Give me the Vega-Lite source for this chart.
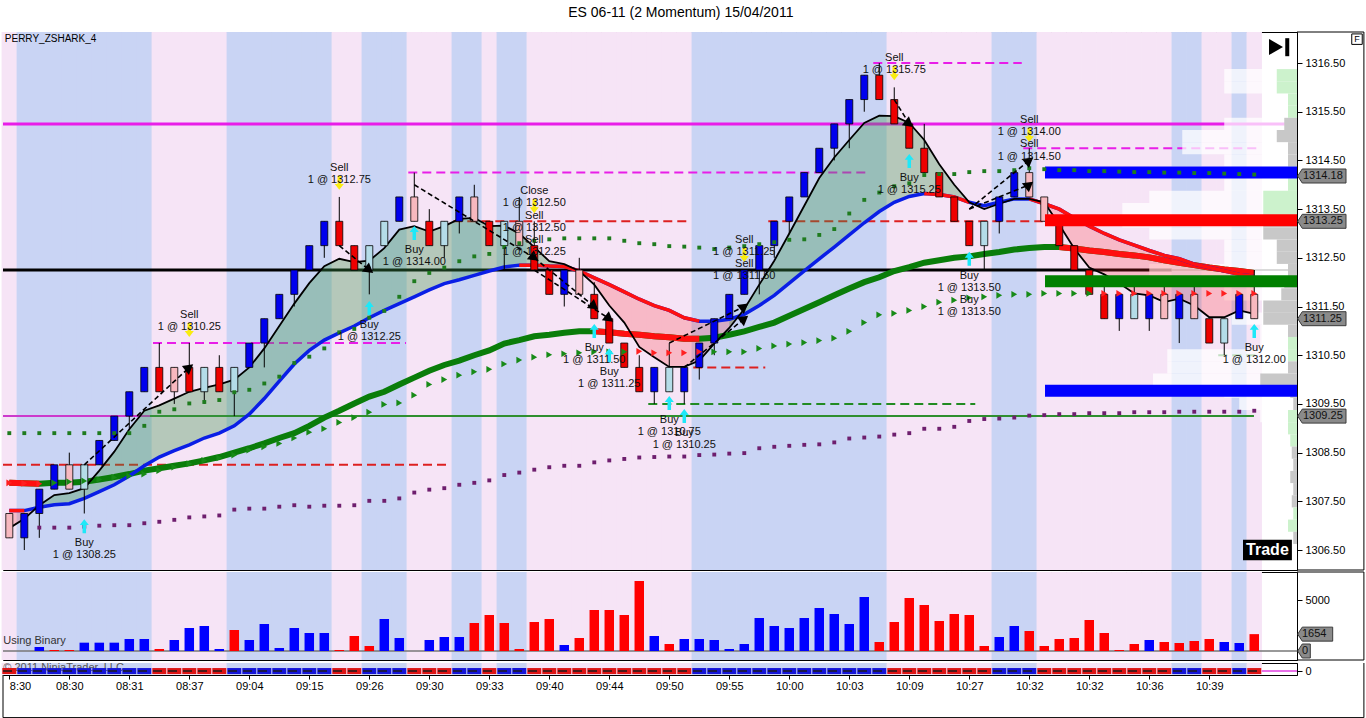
{
  "$schema": "https://vega.github.io/schema/vega-lite/v6.json",
  "background": "white",
  "padding": {"left": -4, "top": 6, "right": 2, "bottom": 0},
  "title": {"text": "ES 06-11 (2 Momentum)  15/04/2011", "font": "Liberation Sans", "fontSize": 14, "fontWeight": "normal", "color": "#000", "anchor": "middle", "offset": 11},
  "config": {
    "view": {"stroke": "#000", "strokeWidth": 1},
    "font": "Liberation Sans",
    "scale": {"continuousPadding": 0},
    "axis": {"labelFont": "Liberation Sans", "labelFontSize": 11, "labelColor": "#000", "tickColor": "#000", "domainColor": "#000", "grid": false}
  },
  "spacing": 0,
  "datasets": {
    "bars": [
      {"i":0,"o":1307.25,"h":1307.25,"l":1306.75,"c":1306.75,"k":"downPale","v":0,"vd":"dn","tr":"dn","f":1306.95,"m":1307.31,"s":1307.88,"g":1308.9,"pd":null,"tri":1307.88,"tt":"dn"},
      {"i":1,"o":1306.75,"h":1307.25,"l":1306.5,"c":1307.25,"k":"up","v":0,"vd":"dn","tr":"up","f":1307.14,"m":1307.31,"s":1307.87,"g":1308.9,"pd":null,"tri":1307.87,"tt":"dn"},
      {"i":2,"o":1307.25,"h":1307.75,"l":1306.75,"c":1307.75,"k":"up","v":392,"vd":"up","tr":"up","f":1307.42,"m":1307.38,"s":1307.86,"g":1308.9,"pd":1306.96,"tri":1307.86,"tt":"dn"},
      {"i":3,"o":1307.75,"h":1308.25,"l":1307.75,"c":1308.25,"k":"up","v":100,"vd":"dn","tr":"up","f":1307.63,"m":1307.43,"s":1307.88,"g":1308.9,"pd":1306.96,"tri":1307.88,"tt":"up"},
      {"i":4,"o":1308.25,"h":1308.5,"l":1307.75,"c":1307.75,"k":"downPale","v":100,"vd":"dn","tr":"up","f":1307.67,"m":1307.45,"s":1307.88,"g":1308.9,"pd":1306.96,"tri":1307.9,"tt":"up"},
      {"i":5,"o":1307.75,"h":1308.25,"l":1307.25,"c":1308.25,"k":"upPale","v":817,"vd":"up","tr":"up","f":1307.77,"m":1307.56,"s":1307.9,"g":1308.9,"pd":1306.98,"tri":1307.92,"tt":"up"},
      {"i":6,"o":1308.25,"h":1308.75,"l":1308.25,"c":1308.75,"k":"up","v":817,"vd":"up","tr":"up","f":1308.13,"m":1307.7,"s":1307.95,"g":1308.9,"pd":1307.0,"tri":1307.95,"tt":"up"},
      {"i":7,"o":1308.75,"h":1309.25,"l":1308.75,"c":1309.25,"k":"up","v":817,"vd":"up","tr":"up","f":1308.52,"m":1307.84,"s":1308.0,"g":1308.9,"pd":1307.01,"tri":1307.99,"tt":"up"},
      {"i":8,"o":1309.25,"h":1309.75,"l":1309.0,"c":1309.75,"k":"up","v":1176,"vd":"up","tr":"up","f":1308.98,"m":1308.02,"s":1308.06,"g":1308.9,"pd":1307.01,"tri":1308.02,"tt":"up"},
      {"i":9,"o":1309.75,"h":1310.25,"l":1309.75,"c":1310.25,"k":"up","v":1176,"vd":"up","tr":"up","f":1309.36,"m":1308.23,"s":1308.13,"g":1309.05,"pd":1307.05,"tri":1308.06,"tt":"up"},
      {"i":10,"o":1310.25,"h":1310.75,"l":1309.75,"c":1309.75,"k":"down","v":196,"vd":"dn","tr":"dn","f":1309.47,"m":1308.41,"s":1308.18,"g":1309.34,"pd":1307.08,"tri":1308.13,"tt":"up"},
      {"i":11,"o":1310.25,"h":1310.25,"l":1309.5,"c":1309.75,"k":"downPale","v":1078,"vd":"up","tr":"dn","f":1309.61,"m":1308.54,"s":1308.23,"g":1309.39,"pd":1307.12,"tri":1308.2,"tt":"up"},
      {"i":12,"o":1310.25,"h":1310.75,"l":1309.75,"c":1309.75,"k":"down","v":2255,"vd":"up","tr":"dn","f":1309.75,"m":1308.66,"s":1308.28,"g":1309.51,"pd":1307.17,"tri":1308.27,"tt":"up"},
      {"i":13,"o":1309.75,"h":1310.25,"l":1309.5,"c":1310.25,"k":"upPale","v":2451,"vd":"up","tr":"dn","f":1309.83,"m":1308.8,"s":1308.34,"g":1309.54,"pd":1307.19,"tri":1308.34,"tt":"up"},
      {"i":14,"o":1310.25,"h":1310.5,"l":1309.75,"c":1309.75,"k":"down","v":196,"vd":"up","tr":"dn","f":1309.9,"m":1308.9,"s":1308.41,"g":1309.58,"pd":1307.21,"tri":1308.39,"tt":"up"},
      {"i":15,"o":1309.75,"h":1310.25,"l":1309.25,"c":1310.25,"k":"upPale","v":2059,"vd":"dn","tr":"up","f":1310.0,"m":1309.05,"s":1308.5,"g":1309.74,"pd":1307.33,"tri":1308.45,"tt":"up"},
      {"i":16,"o":1310.25,"h":1310.75,"l":1310.25,"c":1310.75,"k":"up","v":1078,"vd":"up","tr":"up","f":1310.25,"m":1309.29,"s":1308.59,"g":1309.79,"pd":1307.35,"tri":1308.55,"tt":"up"},
      {"i":17,"o":1310.75,"h":1311.25,"l":1310.25,"c":1311.25,"k":"up","v":2647,"vd":"up","tr":"up","f":1310.64,"m":1309.61,"s":1308.69,"g":1309.92,"pd":1307.35,"tri":1308.62,"tt":"up"},
      {"i":18,"o":1311.25,"h":1311.75,"l":1311.25,"c":1311.75,"k":"up","v":294,"vd":"up","tr":"up","f":1311.1,"m":1309.97,"s":1308.8,"g":1310.06,"pd":1307.39,"tri":1308.69,"tt":"up"},
      {"i":19,"o":1311.75,"h":1312.25,"l":1311.5,"c":1312.25,"k":"up","v":2255,"vd":"up","tr":"up","f":1311.56,"m":1310.32,"s":1308.9,"g":1310.34,"pd":1307.42,"tri":1308.8,"tt":"up"},
      {"i":20,"o":1312.25,"h":1312.75,"l":1312.25,"c":1312.75,"k":"up","v":1765,"vd":"up","tr":"up","f":1311.98,"m":1310.6,"s":1309.05,"g":1310.47,"pd":1307.39,"tri":1308.92,"tt":"up"},
      {"i":21,"o":1312.75,"h":1313.25,"l":1312.5,"c":1313.25,"k":"up","v":1765,"vd":"up","tr":"up","f":1312.33,"m":1310.81,"s":1309.22,"g":1310.64,"pd":1307.41,"tri":1308.99,"tt":"up"},
      {"i":22,"o":1313.25,"h":1313.75,"l":1312.75,"c":1312.75,"k":"down","v":100,"vd":"dn","tr":"dn","f":1312.48,"m":1310.96,"s":1309.36,"g":1310.97,"pd":1307.41,"tri":1309.12,"tt":"up"},
      {"i":23,"o":1312.75,"h":1312.75,"l":1312.25,"c":1312.25,"k":"down","v":1470,"vd":"dn","tr":"dn","f":1312.41,"m":1311.1,"s":1309.51,"g":1311.04,"pd":1307.42,"tri":1309.22,"tt":"up"},
      {"i":24,"o":1312.25,"h":1312.75,"l":1311.75,"c":1312.75,"k":"upPale","v":490,"vd":"dn","tr":"up","f":1312.44,"m":1311.27,"s":1309.65,"g":1311.27,"pd":1307.51,"tri":1309.33,"tt":"up"},
      {"i":25,"o":1312.75,"h":1313.25,"l":1312.75,"c":1313.25,"k":"upPale","v":3137,"vd":"up","tr":"up","f":1312.7,"m":1311.42,"s":1309.75,"g":1311.41,"pd":1307.51,"tri":1309.49,"tt":"up"},
      {"i":26,"o":1313.25,"h":1313.75,"l":1313.25,"c":1313.75,"k":"up","v":1274,"vd":"up","tr":"up","f":1313.08,"m":1311.56,"s":1309.9,"g":1311.7,"pd":1307.56,"tri":1309.52,"tt":"up"},
      {"i":27,"o":1313.75,"h":1314.25,"l":1313.25,"c":1313.25,"k":"downPale","v":0,"vd":"up","tr":"dn","f":1313.15,"m":1311.7,"s":1310.04,"g":1312.02,"pd":1307.68,"tri":1309.68,"tt":"up"},
      {"i":28,"o":1313.25,"h":1313.5,"l":1312.75,"c":1312.75,"k":"down","v":1078,"vd":"up","tr":"dn","f":1313.04,"m":1311.84,"s":1310.18,"g":1312.19,"pd":1307.74,"tri":1309.9,"tt":"up"},
      {"i":29,"o":1312.75,"h":1313.25,"l":1312.5,"c":1313.25,"k":"upPale","v":1372,"vd":"up","tr":"dn","f":1313.15,"m":1311.97,"s":1310.3,"g":1312.3,"pd":1307.77,"tri":1310.0,"tt":"up"},
      {"i":30,"o":1313.25,"h":1313.75,"l":1313.0,"c":1313.75,"k":"up","v":1372,"vd":"up","tr":"up","f":1313.3,"m":1312.05,"s":1310.39,"g":1312.43,"pd":1307.84,"tri":1310.09,"tt":"up"},
      {"i":31,"o":1313.75,"h":1314.0,"l":1313.25,"c":1313.25,"k":"downPale","v":2745,"vd":"dn","tr":"up","f":1313.32,"m":1312.14,"s":1310.5,"g":1312.53,"pd":1307.88,"tri":1310.16,"tt":"up"},
      {"i":32,"o":1313.25,"h":1313.25,"l":1312.75,"c":1312.75,"k":"down","v":3529,"vd":"dn","tr":"dn","f":1313.15,"m":1312.23,"s":1310.6,"g":1312.58,"pd":1307.93,"tri":1310.21,"tt":"up"},
      {"i":33,"o":1312.75,"h":1313.25,"l":1312.25,"c":1313.25,"k":"upPale","v":2745,"vd":"dn","tr":"up","f":1313.16,"m":1312.31,"s":1310.74,"g":1312.72,"pd":1308.04,"tri":1310.32,"tt":"up"},
      {"i":34,"o":1313.25,"h":1313.75,"l":1312.75,"c":1312.75,"k":"downPale","v":196,"vd":"dn","tr":"up","f":1313.0,"m":1312.35,"s":1310.81,"g":1312.8,"pd":1308.09,"tri":1310.4,"tt":"up"},
      {"i":35,"o":1312.75,"h":1313.25,"l":1312.25,"c":1312.25,"k":"down","v":2843,"vd":"dn","tr":"dn","f":1312.72,"m":1312.35,"s":1310.89,"g":1312.85,"pd":1308.15,"tri":1310.46,"tt":"up"},
      {"i":36,"o":1312.25,"h":1312.25,"l":1311.75,"c":1311.75,"k":"down","v":3137,"vd":"dn","tr":"dn","f":1312.43,"m":1312.33,"s":1310.92,"g":1312.88,"pd":1308.2,"tri":1310.51,"tt":"up"},
      {"i":37,"o":1311.75,"h":1312.25,"l":1311.5,"c":1312.25,"k":"up","v":588,"vd":"up","tr":"dn","f":1312.37,"m":1312.32,"s":1310.96,"g":1312.9,"pd":1308.23,"tri":1310.53,"tt":"up"},
      {"i":38,"o":1312.25,"h":1312.5,"l":1311.75,"c":1311.75,"k":"downPale","v":1274,"vd":"dn","tr":"dn","f":1312.23,"m":1312.23,"s":1310.99,"g":1312.9,"pd":1308.23,"tri":1310.55,"tt":"up"},
      {"i":39,"o":1311.75,"h":1312.0,"l":1311.25,"c":1311.25,"k":"down","v":4020,"vd":"dn","tr":"dn","f":1311.95,"m":1312.09,"s":1310.99,"g":1312.9,"pd":1308.3,"tri":1310.57,"tt":"up"},
      {"i":40,"o":1311.25,"h":1311.25,"l":1310.75,"c":1310.75,"k":"down","v":4020,"vd":"dn","tr":"dn","f":1311.52,"m":1311.95,"s":1310.97,"g":1312.9,"pd":1308.34,"tri":1310.57,"tt":"up"},
      {"i":41,"o":1310.75,"h":1310.75,"l":1310.25,"c":1310.25,"k":"down","v":3529,"vd":"dn","tr":"dn","f":1311.17,"m":1311.8,"s":1310.94,"g":1312.85,"pd":1308.37,"tri":1310.57,"tt":"up"},
      {"i":42,"o":1310.25,"h":1310.5,"l":1309.75,"c":1309.75,"k":"down","v":6863,"vd":"dn","tr":"dn","f":1310.67,"m":1311.65,"s":1310.92,"g":1312.8,"pd":1308.4,"tri":1310.58,"tt":"dn"},
      {"i":43,"o":1309.75,"h":1310.25,"l":1309.5,"c":1310.25,"k":"up","v":1470,"vd":"up","tr":"dn","f":1310.46,"m":1311.52,"s":1310.89,"g":1312.78,"pd":1308.41,"tri":1310.55,"tt":"dn"},
      {"i":44,"o":1309.75,"h":1310.75,"l":1309.75,"c":1310.25,"k":"upPale","v":686,"vd":"dn","tr":"dn","f":1310.26,"m":1311.42,"s":1310.87,"g":1312.74,"pd":1308.42,"tri":1310.55,"tt":"dn"},
      {"i":45,"o":1309.75,"h":1310.25,"l":1309.5,"c":1310.25,"k":"up","v":1176,"vd":"up","tr":"dn","f":1310.26,"m":1311.27,"s":1310.84,"g":1312.73,"pd":1308.42,"tri":1310.55,"tt":"dn"},
      {"i":46,"o":1310.25,"h":1310.75,"l":1310.0,"c":1310.75,"k":"up","v":1176,"vd":"up","tr":"up","f":1310.39,"m":1311.2,"s":1310.84,"g":1312.71,"pd":1308.45,"tri":1310.57,"tt":"dn"},
      {"i":47,"o":1310.75,"h":1311.25,"l":1310.5,"c":1311.25,"k":"up","v":1078,"vd":"up","tr":"up","f":1310.74,"m":1311.2,"s":1310.86,"g":1312.68,"pd":1308.46,"tri":1310.57,"tt":"up"},
      {"i":48,"o":1311.25,"h":1311.75,"l":1311.25,"c":1311.75,"k":"up","v":196,"vd":"up","tr":"up","f":1311.06,"m":1311.24,"s":1310.92,"g":1312.71,"pd":1308.48,"tri":1310.57,"tt":"up"},
      {"i":49,"o":1311.75,"h":1312.25,"l":1311.75,"c":1312.25,"k":"up","v":686,"vd":"up","tr":"up","f":1311.45,"m":1311.34,"s":1310.99,"g":1312.74,"pd":1308.49,"tri":1310.57,"tt":"up"},
      {"i":50,"o":1312.25,"h":1312.75,"l":1311.75,"c":1312.75,"k":"up","v":3235,"vd":"up","tr":"up","f":1311.95,"m":1311.52,"s":1311.08,"g":1312.78,"pd":1308.59,"tri":1310.64,"tt":"up"},
      {"i":51,"o":1312.75,"h":1313.25,"l":1312.5,"c":1313.25,"k":"up","v":2451,"vd":"up","tr":"up","f":1312.44,"m":1311.73,"s":1311.17,"g":1312.82,"pd":1308.62,"tri":1310.69,"tt":"up"},
      {"i":52,"o":1313.25,"h":1313.75,"l":1313.0,"c":1313.75,"k":"up","v":2255,"vd":"up","tr":"up","f":1313.0,"m":1311.98,"s":1311.31,"g":1312.87,"pd":1308.64,"tri":1310.73,"tt":"up"},
      {"i":53,"o":1313.75,"h":1314.25,"l":1313.75,"c":1314.25,"k":"up","v":3235,"vd":"up","tr":"up","f":1313.57,"m":1312.23,"s":1311.45,"g":1312.88,"pd":1308.66,"tri":1310.76,"tt":"up"},
      {"i":54,"o":1314.25,"h":1314.75,"l":1314.25,"c":1314.75,"k":"up","v":4216,"vd":"up","tr":"up","f":1314.14,"m":1312.48,"s":1311.59,"g":1312.97,"pd":1308.67,"tri":1310.8,"tt":"up"},
      {"i":55,"o":1314.75,"h":1315.25,"l":1314.5,"c":1315.25,"k":"up","v":3627,"vd":"up","tr":"up","f":1314.56,"m":1312.72,"s":1311.73,"g":1313.09,"pd":1308.71,"tri":1310.85,"tt":"up"},
      {"i":56,"o":1315.25,"h":1315.75,"l":1314.75,"c":1315.75,"k":"up","v":2647,"vd":"up","tr":"up","f":1314.92,"m":1312.97,"s":1311.87,"g":1313.41,"pd":1308.79,"tri":1310.99,"tt":"up"},
      {"i":57,"o":1315.75,"h":1316.25,"l":1315.5,"c":1316.25,"k":"up","v":5294,"vd":"up","tr":"up","f":1315.27,"m":1313.22,"s":1312.0,"g":1313.69,"pd":1308.81,"tri":1311.17,"tt":"up"},
      {"i":58,"o":1316.25,"h":1316.5,"l":1315.75,"c":1315.75,"k":"down","v":882,"vd":"dn","tr":"up","f":1315.42,"m":1313.45,"s":1312.1,"g":1313.84,"pd":1308.83,"tri":1311.33,"tt":"up"},
      {"i":59,"o":1315.75,"h":1316.0,"l":1315.25,"c":1315.25,"k":"down","v":2843,"vd":"dn","tr":"dn","f":1315.41,"m":1313.64,"s":1312.23,"g":1313.97,"pd":1308.87,"tri":1311.36,"tt":"up"},
      {"i":60,"o":1315.25,"h":1315.25,"l":1314.75,"c":1314.75,"k":"down","v":5196,"vd":"dn","tr":"dn","f":1315.27,"m":1313.76,"s":1312.31,"g":1314.03,"pd":1308.9,"tri":1311.42,"tt":"up"},
      {"i":61,"o":1314.75,"h":1315.25,"l":1314.25,"c":1314.25,"k":"down","v":4510,"vd":"dn","tr":"dn","f":1314.92,"m":1313.82,"s":1312.4,"g":1314.2,"pd":1308.99,"tri":1311.5,"tt":"up"},
      {"i":62,"o":1314.25,"h":1314.25,"l":1313.75,"c":1313.75,"k":"down","v":2941,"vd":"dn","tr":"dn","f":1314.42,"m":1313.8,"s":1312.45,"g":1314.22,"pd":1308.99,"tri":1311.59,"tt":"up"},
      {"i":63,"o":1313.75,"h":1313.75,"l":1313.25,"c":1313.25,"k":"down","v":3627,"vd":"dn","tr":"dn","f":1314.0,"m":1313.75,"s":1312.5,"g":1314.22,"pd":1309.03,"tri":1311.63,"tt":"up"},
      {"i":64,"o":1313.25,"h":1313.25,"l":1312.75,"c":1312.75,"k":"down","v":3529,"vd":"dn","tr":"dn","f":1313.64,"m":1313.64,"s":1312.53,"g":1314.26,"pd":1309.15,"tri":1311.68,"tt":"up"},
      {"i":65,"o":1312.75,"h":1313.25,"l":1312.25,"c":1313.25,"k":"upPale","v":490,"vd":"dn","tr":"dn","f":1313.5,"m":1313.57,"s":1312.58,"g":1314.28,"pd":1309.19,"tri":1311.7,"tt":"up"},
      {"i":66,"o":1313.25,"h":1313.75,"l":1313.0,"c":1313.75,"k":"up","v":1372,"vd":"up","tr":"up","f":1313.61,"m":1313.64,"s":1312.62,"g":1314.28,"pd":1309.2,"tri":1311.73,"tt":"up"},
      {"i":67,"o":1313.75,"h":1314.25,"l":1313.75,"c":1314.25,"k":"up","v":2451,"vd":"up","tr":"up","f":1313.71,"m":1313.71,"s":1312.67,"g":1314.3,"pd":1309.22,"tri":1311.75,"tt":"up"},
      {"i":68,"o":1314.25,"h":1314.75,"l":1313.75,"c":1313.75,"k":"downPale","v":1961,"vd":"dn","tr":"up","f":1313.71,"m":1313.71,"s":1312.7,"g":1314.34,"pd":1309.26,"tri":1311.75,"tt":"up"},
      {"i":69,"o":1313.75,"h":1313.75,"l":1313.25,"c":1313.25,"k":"downPale","v":490,"vd":"dn","tr":"dn","f":1313.64,"m":1313.61,"s":1312.72,"g":1314.32,"pd":1309.27,"tri":1311.77,"tt":"up"},
      {"i":70,"o":1313.25,"h":1313.25,"l":1312.75,"c":1312.75,"k":"down","v":1176,"vd":"dn","tr":"dn","f":1313.18,"m":1313.5,"s":1312.72,"g":1314.3,"pd":1309.29,"tri":1311.77,"tt":"up"},
      {"i":71,"o":1312.75,"h":1312.75,"l":1312.25,"c":1312.25,"k":"down","v":1274,"vd":"dn","tr":"dn","f":1312.69,"m":1313.32,"s":1312.69,"g":1314.3,"pd":1309.29,"tri":1311.77,"tt":"up"},
      {"i":72,"o":1312.25,"h":1312.25,"l":1311.75,"c":1311.75,"k":"down","v":3039,"vd":"dn","tr":"dn","f":1312.3,"m":1313.15,"s":1312.65,"g":1314.28,"pd":1309.31,"tri":1311.77,"tt":"up"},
      {"i":73,"o":1311.75,"h":1312.0,"l":1311.25,"c":1311.25,"k":"down","v":1765,"vd":"dn","tr":"dn","f":1312.16,"m":1313.0,"s":1312.62,"g":1314.28,"pd":1309.31,"tri":1311.77,"tt":"dn"},
      {"i":74,"o":1311.25,"h":1311.75,"l":1311.0,"c":1311.75,"k":"up","v":100,"vd":"dn","tr":"dn","f":1311.98,"m":1312.87,"s":1312.58,"g":1314.27,"pd":1309.31,"tri":1311.77,"tt":"dn"},
      {"i":75,"o":1311.25,"h":1312.0,"l":1311.25,"c":1311.75,"k":"upPale","v":686,"vd":"dn","tr":"dn","f":1311.77,"m":1312.76,"s":1312.55,"g":1314.26,"pd":1309.33,"tri":1311.77,"tt":"dn"},
      {"i":76,"o":1311.25,"h":1311.75,"l":1311.0,"c":1311.75,"k":"up","v":1078,"vd":"up","tr":"dn","f":1311.73,"m":1312.65,"s":1312.51,"g":1314.26,"pd":1309.33,"tri":1311.77,"tt":"dn"},
      {"i":77,"o":1311.75,"h":1312.0,"l":1311.25,"c":1311.25,"k":"downPale","v":882,"vd":"dn","tr":"dn","f":1311.59,"m":1312.55,"s":1312.45,"g":1314.25,"pd":1309.33,"tri":1311.77,"tt":"dn"},
      {"i":78,"o":1311.25,"h":1311.75,"l":1310.75,"c":1311.75,"k":"up","v":784,"vd":"dn","tr":"up","f":1311.66,"m":1312.48,"s":1312.4,"g":1314.25,"pd":1309.34,"tri":1311.77,"tt":"dn"},
      {"i":79,"o":1311.75,"h":1312.0,"l":1311.25,"c":1311.25,"k":"downPale","v":980,"vd":"dn","tr":"up","f":1311.52,"m":1312.37,"s":1312.35,"g":1314.24,"pd":1309.34,"tri":1311.77,"tt":"dn"},
      {"i":80,"o":1311.25,"h":1311.25,"l":1310.75,"c":1310.75,"k":"down","v":1176,"vd":"dn","tr":"dn","f":1311.28,"m":1312.3,"s":1312.3,"g":1314.24,"pd":1309.34,"tri":1311.77,"tt":"dn"},
      {"i":81,"o":1310.75,"h":1311.25,"l":1310.5,"c":1311.25,"k":"upPale","v":882,"vd":"up","tr":"dn","f":1311.28,"m":1312.23,"s":1312.26,"g":1314.23,"pd":1309.34,"tri":1311.77,"tt":"dn"},
      {"i":82,"o":1311.25,"h":1311.75,"l":1311.25,"c":1311.75,"k":"up","v":784,"vd":"up","tr":"up","f":1311.42,"m":1312.16,"s":1312.23,"g":1314.22,"pd":1309.34,"tri":1311.77,"tt":"dn"},
      {"i":83,"o":1311.75,"h":1312.25,"l":1311.25,"c":1311.25,"k":"downPale","v":1654,"vd":"dn","tr":"dn","f":1311.35,"m":1312.12,"s":1312.19,"g":1314.21,"pd":1309.36,"tri":1311.77,"tt":"dn"}
    ],
    "levels": [
      {"k":"pivotHigh","p":1315.25,"a":-0.42,"b":85.85},
      {"k":"pivot","p":1312.25,"a":-0.42,"b":77.5},
      {"k":"pivotFaded","p":1312.25,"a":77.5,"b":85.85},
      {"k":"pivotLow","p":1309.25,"a":-0.42,"b":9.38},
      {"k":"pivotLowTrend","p":1309.25,"a":9.38,"b":82.98},
      {"k":"stop","p":1308.25,"a":-0.42,"b":29.4},
      {"k":"target","p":1310.75,"a":9.58,"b":26.45},
      {"k":"target","p":1314.25,"a":26.6,"b":57.4},
      {"k":"stop","p":1313.25,"a":29.6,"b":45.4},
      {"k":"stop","p":1310.25,"a":45.6,"b":50.4},
      {"k":"stop","p":1313.25,"a":50.6,"b":68.9},
      {"k":"entry","p":1309.5,"a":42.6,"b":64.4},
      {"k":"target","p":1316.5,"a":57.6,"b":67.5},
      {"k":"target","p":1314.75,"a":67.6,"b":83.4},
      {"k":"entry","p":1310.5,"a":80.6,"b":83.4},
      {"k":"zoneBuy","p":1314.25,"a":69.05,"b":85.85},
      {"k":"zoneSell","p":1313.27,"a":69.05,"b":85.85},
      {"k":"zoneMid","p":1312.02,"a":69.05,"b":85.85},
      {"k":"zoneBuy","p":1309.77,"a":69.05,"b":85.85}
    ],
    "profile": [
      {"p":1316.25,"w":81.0,"cf":84.5,"side":"buy"},
      {"p":1316.0,"w":81.0,"cf":84.5,"side":"buy"},
      {"p":1315.75,"w":83.6,"cf":85.25,"side":"buy"},
      {"p":1315.5,"w":83.6,"cf":85.25,"side":"buy"},
      {"p":1315.25,"w":81.0,"cf":85.0,"side":"sell"},
      {"p":1315.0,"w":78.2,"cf":84.5,"side":"sell"},
      {"p":1314.75,"w":78.2,"cf":85.25,"side":"sell"},
      {"p":1314.5,"w":81.0,"cf":85.25,"side":"sell"},
      {"p":1314.25,"w":76.0,"cf":85.25,"side":"buy"},
      {"p":1314.0,"w":81.0,"cf":85.25,"side":"buy"},
      {"p":1313.75,"w":76.0,"cf":83.6,"side":"buy"},
      {"p":1313.5,"w":74.2,"cf":83.6,"side":"buy"},
      {"p":1313.25,"w":74.2,"cf":83.6,"side":"sell"},
      {"p":1313.0,"w":76.0,"cf":83.6,"side":"sell"},
      {"p":1312.75,"w":81.0,"cf":84.5,"side":"sell"},
      {"p":1312.5,"w":81.0,"cf":84.5,"side":"sell"},
      {"p":1312.25,"w":76.0,"cf":85.25,"side":"sell"},
      {"p":1312.0,"w":81.0,"cf":85.0,"side":"sell"},
      {"p":1311.75,"w":81.0,"cf":84.8,"side":"sell"},
      {"p":1311.5,"w":83.6,"cf":83.6,"side":"sell"},
      {"p":1311.25,"w":81.5,"cf":83.6,"side":"sell"},
      {"p":1311.0,"w":83.4,"cf":85.25,"side":"sell"},
      {"p":1310.75,"w":83.4,"cf":85.25,"side":"buy"},
      {"p":1310.5,"w":77.2,"cf":85.25,"side":"buy"},
      {"p":1310.25,"w":77.2,"cf":85.25,"side":"sell"},
      {"p":1310.0,"w":76.25,"cf":83.4,"side":"sell"},
      {"p":1309.75,"w":81.0,"cf":85.4,"side":"sell"},
      {"p":1309.5,"w":82.0,"cf":85.6,"side":"sell"},
      {"p":1309.25,"w":83.4,"cf":85.25,"side":"buy"},
      {"p":1309.0,"w":84.0,"cf":85.25,"side":"buy"},
      {"p":1308.75,"w":84.7,"cf":85.4,"side":"buy"},
      {"p":1308.5,"w":85.5,"cf":85.5,"side":"sell"},
      {"p":1308.25,"w":85.6,"cf":85.6,"side":"sell"},
      {"p":1308.0,"w":85.4,"cf":85.4,"side":"sell"},
      {"p":1307.75,"w":85.6,"cf":85.6,"side":"sell"},
      {"p":1307.5,"w":85.5,"cf":85.5,"side":"sell"},
      {"p":1307.25,"w":85.6,"cf":85.6,"side":"buy"},
      {"p":1307.0,"w":85.25,"cf":85.25,"side":"buy"},
      {"p":1306.75,"w":85.6,"cf":85.6,"side":"sell"}
    ],
    "trades": [
      {"i":5,"y":1306.99,"side":"buy","txt":"Buy\n1 @ 1308.25"},
      {"i":12,"y":1311.02,"side":"sell","txt":"Sell\n1 @ 1310.25"},
      {"i":22,"y":1314.04,"side":"sell","txt":"Sell\n1 @ 1312.75"},
      {"i":24,"y":1311.47,"side":"buy","txt":"Buy\n1 @ 1312.25"},
      {"i":27,"y":1313.01,"side":"buy","txt":"Buy\n1 @ 1314.00"},
      {"i":35,"y":1313.56,"side":"sell","txt":"Close\n1 @ 1312.50\nSell\n1 @ 1312.50\nSell\n1 @ 1312.25"},
      {"i":39,"y":1311.0,"side":"buy","txt":"Buy\n1 @ 1311.50"},
      {"i":40,"y":1310.5,"side":"buy","txt":"Buy\n1 @ 1311.25"},
      {"i":44,"y":1309.52,"side":"buy","txt":"Buy\n1 @ 1310.75"},
      {"i":45,"y":1309.25,"side":"buy","txt":"Buy\n1 @ 1310.25"},
      {"i":49,"y":1312.56,"side":"sell","txt":"Sell\n1 @ 1311.25\nSell\n1 @ 1311.50"},
      {"i":59,"y":1316.29,"side":"sell","txt":"Sell\n1 @ 1315.75"},
      {"i":60,"y":1314.49,"side":"buy","txt":"Buy\n1 @ 1315.25"},
      {"i":64,"y":1312.48,"side":"buy","txt":"Buy\n1 @ 1313.50\nBuy\n1 @ 1313.50"},
      {"i":68,"y":1315.02,"side":"sell","txt":"Sell\n1 @ 1314.00\nSell\n1 @ 1314.50"},
      {"i":83,"y":1311.0,"side":"buy","txt":"Buy\n1 @ 1312.00"}
    ],
    "paths": [
      {"i1":5,"p1":1308.25,"i2":12,"p2":1310.25},
      {"i1":22,"p1":1312.75,"i2":24,"p2":1312.25},
      {"i1":27,"p1":1314.0,"i2":35,"p2":1312.5},
      {"i1":35,"p1":1312.5,"i2":39,"p2":1311.5},
      {"i1":35,"p1":1312.25,"i2":40,"p2":1311.25},
      {"i1":44,"p1":1310.75,"i2":49,"p2":1311.5},
      {"i1":45,"p1":1310.25,"i2":49,"p2":1311.25},
      {"i1":59,"p1":1315.75,"i2":60,"p2":1315.25},
      {"i1":64,"p1":1313.5,"i2":68,"p2":1314.5},
      {"i1":64,"p1":1313.5,"i2":68,"p2":1314.0}
    ],
    "tags": [
      {"p":1314.18},
      {"p":1313.25},
      {"p":1311.25},
      {"p":1309.25}
    ]
  },
  "vconcat": [
    {
      "width": 1294,
      "height": 538,
      "layer": [
        {
          "data": {"name": "bars"},
          "mark": {"type": "bar", "width": 15.4},
          "encoding": {
            "x": {"field": "i", "type": "quantitative", "scale": {"domain": [-0.42, 85.85], "nice": false, "zero": false}, "axis": null},
            "y": {"datum": 1317.137, "type": "quantitative", "scale": {"domain": [1306.09, 1317.137], "nice": false, "zero": false},
              "axis": {"orient": "right", "title": null, "values": [1306.5,1307,1307.5,1308,1308.5,1309,1309.5,1310,1310.5,1311,1311.5,1312,1312.5,1313,1313.5,1314,1314.5,1315,1315.5,1316,1316.5], "format": ".2f", "tickSize": 5, "labelPadding": 3, "labelFlush": false, "labelOverlap": false}},
            "y2": {"datum": 1306.09},
            "color": {"condition": {"test": "datum.tr == 'up'", "value": "#c9d4f4"}, "value": "#f6e4f6"}
          }
        },
        {
          "data": {"name": "levels"},
          "transform": [{"filter": "indexof(['pivotHigh','pivot','pivotFaded','pivotLow','pivotLowTrend'], datum.k) >= 0"}],
          "mark": {"type": "rule", "clip": true},
          "encoding": {
            "x": {"field": "a", "type": "quantitative", "scale": {"domain": [-0.42, 85.85], "nice": false, "zero": false}},
            "x2": {"field": "b"},
            "y": {"field": "p", "type": "quantitative", "scale": {"domain": [1306.09, 1317.137], "nice": false, "zero": false}},
            "color": {"condition": [
              {"test": "datum.k == 'pivotHigh'", "value": "#e81ee8"},
              {"test": "datum.k == 'pivot'", "value": "#000000"},
              {"test": "datum.k == 'pivotFaded'", "value": "#7a7a7a"},
              {"test": "datum.k == 'pivotLow'", "value": "#cc3acc"}
            ], "value": "#2f8f2f"},
            "strokeWidth": {"condition": {"test": "datum.k == 'pivotHigh' || datum.k == 'pivot'", "value": 3}, "value": 2}
          }
        },
        {
          "data": {"name": "levels"},
          "transform": [{"filter": "indexof(['target','stop','entry'], datum.k) >= 0"}],
          "mark": {"type": "rule", "clip": true, "strokeWidth": 2, "strokeDash": [9, 5]},
          "encoding": {
            "x": {"field": "a", "type": "quantitative", "scale": {"domain": [-0.42, 85.85], "nice": false, "zero": false}},
            "x2": {"field": "b"},
            "y": {"field": "p", "type": "quantitative", "scale": {"domain": [1306.09, 1317.137], "nice": false, "zero": false}},
            "color": {"condition": [
              {"test": "datum.k == 'target'", "value": "#e81ee8"},
              {"test": "datum.k == 'stop'", "value": "#dd2020"}
            ], "value": "#228b22"}
          }
        },
        {
          "data": {"name": "profile"},
          "mark": {"type": "bar", "height": 12.2, "color": "#ffffff", "opacity": 0.72, "clip": true},
          "encoding": {
            "x": {"field": "w", "type": "quantitative", "scale": {"domain": [-0.42, 85.85], "nice": false, "zero": false}},
            "x2": {"datum": 85.85},
            "y": {"field": "p", "type": "quantitative", "scale": {"domain": [1306.09, 1317.137], "nice": false, "zero": false}}
          }
        },
        {
          "data": {"name": "profile"},
          "mark": {"type": "bar", "height": 12.2, "clip": true},
          "encoding": {
            "x": {"field": "cf", "type": "quantitative", "scale": {"domain": [-0.42, 85.85], "nice": false, "zero": false}},
            "x2": {"datum": 85.85},
            "y": {"field": "p", "type": "quantitative", "scale": {"domain": [1306.09, 1317.137], "nice": false, "zero": false}},
            "color": {"condition": {"test": "datum.side == 'buy'", "value": "#ccf2cc"}, "value": "#c8c8c8"}
          }
        },
        {
          "data": {"name": "bars"},
          "transform": [{"filter": {"field": "i", "range": [0, 2]}}],
          "mark": {"type": "area", "color": "#ff2020", "opacity": 0.22},
          "encoding": {
            "x": {"field": "i", "type": "quantitative", "scale": {"domain": [-0.42, 85.85], "nice": false, "zero": false}},
            "y": {"field": "f", "type": "quantitative", "scale": {"domain": [1306.09, 1317.137], "nice": false, "zero": false}},
            "y2": {"field": "m"}
          }
        },
        {
          "data": {"name": "bars"},
          "transform": [{"filter": {"field": "i", "range": [2, 38]}}],
          "mark": {"type": "area", "color": "#3b964a", "opacity": 0.35},
          "encoding": {
            "x": {"field": "i", "type": "quantitative", "scale": {"domain": [-0.42, 85.85], "nice": false, "zero": false}},
            "y": {"field": "f", "type": "quantitative", "scale": {"domain": [1306.09, 1317.137], "nice": false, "zero": false}},
            "y2": {"field": "m"}
          }
        },
        {
          "data": {"name": "bars"},
          "transform": [{"filter": {"field": "i", "range": [38, 49]}}],
          "mark": {"type": "area", "color": "#ff2020", "opacity": 0.22},
          "encoding": {
            "x": {"field": "i", "type": "quantitative", "scale": {"domain": [-0.42, 85.85], "nice": false, "zero": false}},
            "y": {"field": "f", "type": "quantitative", "scale": {"domain": [1306.09, 1317.137], "nice": false, "zero": false}},
            "y2": {"field": "m"}
          }
        },
        {
          "data": {"name": "bars"},
          "transform": [{"filter": {"field": "i", "range": [48, 64]}}],
          "mark": {"type": "area", "color": "#3b964a", "opacity": 0.35},
          "encoding": {
            "x": {"field": "i", "type": "quantitative", "scale": {"domain": [-0.42, 85.85], "nice": false, "zero": false}},
            "y": {"field": "f", "type": "quantitative", "scale": {"domain": [1306.09, 1317.137], "nice": false, "zero": false}},
            "y2": {"field": "m"}
          }
        },
        {
          "data": {"name": "bars"},
          "transform": [{"filter": {"field": "i", "range": [64, 83]}}],
          "mark": {"type": "area", "color": "#ff2020", "opacity": 0.22},
          "encoding": {
            "x": {"field": "i", "type": "quantitative", "scale": {"domain": [-0.42, 85.85], "nice": false, "zero": false}},
            "y": {"field": "f", "type": "quantitative", "scale": {"domain": [1306.09, 1317.137], "nice": false, "zero": false}},
            "y2": {"field": "m"}
          }
        },
        {
          "data": {"name": "bars"},
          "mark": {"type": "line", "color": "#0a7d0a", "strokeWidth": 6},
          "encoding": {
            "x": {"field": "i", "type": "quantitative", "scale": {"domain": [-0.42, 85.85], "nice": false, "zero": false}},
            "y": {"field": "s", "type": "quantitative", "scale": {"domain": [1306.09, 1317.137], "nice": false, "zero": false}}
          }
        },
        {
          "data": {"name": "bars"},
          "transform": [{"filter": {"field": "i", "range": [0, 2]}}],
          "mark": {"type": "line", "color": "#ff1010", "strokeWidth": 6},
          "encoding": {
            "x": {"field": "i", "type": "quantitative", "scale": {"domain": [-0.42, 85.85], "nice": false, "zero": false}},
            "y": {"field": "s", "type": "quantitative", "scale": {"domain": [1306.09, 1317.137], "nice": false, "zero": false}}
          }
        },
        {
          "data": {"name": "bars"},
          "transform": [{"filter": {"field": "i", "range": [39, 46]}}],
          "mark": {"type": "line", "color": "#ff1010", "strokeWidth": 6},
          "encoding": {
            "x": {"field": "i", "type": "quantitative", "scale": {"domain": [-0.42, 85.85], "nice": false, "zero": false}},
            "y": {"field": "s", "type": "quantitative", "scale": {"domain": [1306.09, 1317.137], "nice": false, "zero": false}}
          }
        },
        {
          "data": {"name": "bars"},
          "transform": [{"filter": {"field": "i", "range": [70, 83]}}],
          "mark": {"type": "line", "color": "#ff1010", "strokeWidth": 6},
          "encoding": {
            "x": {"field": "i", "type": "quantitative", "scale": {"domain": [-0.42, 85.85], "nice": false, "zero": false}},
            "y": {"field": "s", "type": "quantitative", "scale": {"domain": [1306.09, 1317.137], "nice": false, "zero": false}}
          }
        },
        {
          "data": {"name": "bars"},
          "mark": {"type": "line", "color": "#0a1ee6", "strokeWidth": 3.5},
          "encoding": {
            "x": {"field": "i", "type": "quantitative", "scale": {"domain": [-0.42, 85.85], "nice": false, "zero": false}},
            "y": {"field": "m", "type": "quantitative", "scale": {"domain": [1306.09, 1317.137], "nice": false, "zero": false}}
          }
        },
        {
          "data": {"name": "bars"},
          "transform": [{"filter": {"field": "i", "range": [0, 1]}}],
          "mark": {"type": "line", "color": "#ff1010", "strokeWidth": 3.5},
          "encoding": {
            "x": {"field": "i", "type": "quantitative", "scale": {"domain": [-0.42, 85.85], "nice": false, "zero": false}},
            "y": {"field": "m", "type": "quantitative", "scale": {"domain": [1306.09, 1317.137], "nice": false, "zero": false}}
          }
        },
        {
          "data": {"name": "bars"},
          "transform": [{"filter": {"field": "i", "range": [34, 46]}}],
          "mark": {"type": "line", "color": "#ff1010", "strokeWidth": 3.5},
          "encoding": {
            "x": {"field": "i", "type": "quantitative", "scale": {"domain": [-0.42, 85.85], "nice": false, "zero": false}},
            "y": {"field": "m", "type": "quantitative", "scale": {"domain": [1306.09, 1317.137], "nice": false, "zero": false}}
          }
        },
        {
          "data": {"name": "bars"},
          "transform": [{"filter": {"field": "i", "range": [61, 64]}}],
          "mark": {"type": "line", "color": "#ff1010", "strokeWidth": 3.5},
          "encoding": {
            "x": {"field": "i", "type": "quantitative", "scale": {"domain": [-0.42, 85.85], "nice": false, "zero": false}},
            "y": {"field": "m", "type": "quantitative", "scale": {"domain": [1306.09, 1317.137], "nice": false, "zero": false}}
          }
        },
        {
          "data": {"name": "bars"},
          "transform": [{"filter": {"field": "i", "range": [68, 83]}}],
          "mark": {"type": "line", "color": "#ff1010", "strokeWidth": 3.5},
          "encoding": {
            "x": {"field": "i", "type": "quantitative", "scale": {"domain": [-0.42, 85.85], "nice": false, "zero": false}},
            "y": {"field": "m", "type": "quantitative", "scale": {"domain": [1306.09, 1317.137], "nice": false, "zero": false}}
          }
        },
        {
          "data": {"name": "bars"},
          "mark": {"type": "line", "color": "#000000", "strokeWidth": 1.8},
          "encoding": {
            "x": {"field": "i", "type": "quantitative", "scale": {"domain": [-0.42, 85.85], "nice": false, "zero": false}},
            "y": {"field": "f", "type": "quantitative", "scale": {"domain": [1306.09, 1317.137], "nice": false, "zero": false}}
          }
        },
        {
          "data": {"name": "bars"},
          "mark": {"type": "rule", "color": "#000000", "strokeWidth": 1},
          "encoding": {
            "x": {"field": "i", "type": "quantitative", "scale": {"domain": [-0.42, 85.85], "nice": false, "zero": false}},
            "y": {"field": "l", "type": "quantitative", "scale": {"domain": [1306.09, 1317.137], "nice": false, "zero": false}},
            "y2": {"field": "h"}
          }
        },
        {
          "data": {"name": "bars"},
          "mark": {"type": "bar", "width": 7, "stroke": "#000000", "strokeWidth": 0.8},
          "encoding": {
            "x": {"field": "i", "type": "quantitative", "scale": {"domain": [-0.42, 85.85], "nice": false, "zero": false}},
            "y": {"field": "o", "type": "quantitative", "scale": {"domain": [1306.09, 1317.137], "nice": false, "zero": false}},
            "y2": {"field": "c"},
            "color": {"condition": [
              {"test": "datum.k == 'up'", "value": "#0000ee"},
              {"test": "datum.k == 'down'", "value": "#ee0000"},
              {"test": "datum.k == 'upPale'", "value": "#b4dce8"}
            ], "value": "#f7b8bf"}
          }
        },
        {
          "data": {"name": "levels"},
          "transform": [{"filter": "indexof(['zoneBuy','zoneSell','zoneMid'], datum.k) >= 0"}],
          "mark": {"type": "rule", "clip": true, "strokeWidth": 12},
          "encoding": {
            "x": {"field": "a", "type": "quantitative", "scale": {"domain": [-0.42, 85.85], "nice": false, "zero": false}},
            "x2": {"field": "b"},
            "y": {"field": "p", "type": "quantitative", "scale": {"domain": [1306.09, 1317.137], "nice": false, "zero": false}},
            "color": {"condition": [
              {"test": "datum.k == 'zoneBuy'", "value": "#0000ff"},
              {"test": "datum.k == 'zoneSell'", "value": "#ff0000"}
            ], "value": "#008000"}
          }
        },
        {
          "data": {"name": "bars"},
          "mark": {"type": "point", "shape": "square", "filled": true, "size": 15, "color": "#1e7b1e", "opacity": 1},
          "encoding": {
            "x": {"field": "i", "type": "quantitative", "scale": {"domain": [-0.42, 85.85], "nice": false, "zero": false}},
            "y": {"field": "g", "type": "quantitative", "scale": {"domain": [1306.09, 1317.137], "nice": false, "zero": false}}
          }
        },
        {
          "data": {"name": "bars"},
          "mark": {"type": "point", "shape": "square", "filled": true, "size": 15, "color": "#6e1e6e", "opacity": 1},
          "encoding": {
            "x": {"field": "i", "type": "quantitative", "scale": {"domain": [-0.42, 85.85], "nice": false, "zero": false}},
            "y": {"field": "pd", "type": "quantitative", "scale": {"domain": [1306.09, 1317.137], "nice": false, "zero": false}}
          }
        },
        {
          "data": {"name": "bars"},
          "mark": {"type": "point", "shape": "triangle-right", "filled": true, "size": 45, "opacity": 1},
          "encoding": {
            "x": {"field": "i", "type": "quantitative", "scale": {"domain": [-0.42, 85.85], "nice": false, "zero": false}},
            "y": {"field": "tri", "type": "quantitative", "scale": {"domain": [1306.09, 1317.137], "nice": false, "zero": false}},
            "color": {"condition": {"test": "datum.tt == 'up'", "value": "#178a17"}, "value": "#ff2020"}
          }
        },
        {
          "data": {"name": "paths"},
          "mark": {"type": "rule", "color": "#000000", "strokeWidth": 1.6, "strokeDash": [5, 3]},
          "encoding": {
            "x": {"field": "i1", "type": "quantitative", "scale": {"domain": [-0.42, 85.85], "nice": false, "zero": false}},
            "x2": {"field": "i2"},
            "y": {"field": "p1", "type": "quantitative", "scale": {"domain": [1306.09, 1317.137], "nice": false, "zero": false}},
            "y2": {"field": "p2"}
          }
        },
        {
          "data": {"name": "paths"},
          "mark": {"type": "point", "shape": "triangle-right", "filled": true, "size": 130, "color": "#000000", "opacity": 1},
          "encoding": {
            "x": {"field": "i2", "type": "quantitative", "scale": {"domain": [-0.42, 85.85], "nice": false, "zero": false}},
            "y": {"field": "p2", "type": "quantitative", "scale": {"domain": [1306.09, 1317.137], "nice": false, "zero": false}},
            "angle": {"condition": {"test": "datum.p2 > datum.p1", "value": -38}, "value": 38}
          }
        },
        {
          "data": {"name": "trades"},
          "mark": {"type": "point", "shape": "M0,-1L0.65,-0.15L0.25,-0.15L0.25,1L-0.25,1L-0.25,-0.15L-0.65,-0.15Z", "filled": true, "size": 196, "opacity": 1},
          "encoding": {
            "x": {"field": "i", "type": "quantitative", "scale": {"domain": [-0.42, 85.85], "nice": false, "zero": false}},
            "y": {"field": "y", "type": "quantitative", "scale": {"domain": [1306.09, 1317.137], "nice": false, "zero": false}},
            "color": {"condition": {"test": "datum.side == 'buy'", "value": "#1ee8f8"}, "value": "#f8ec10"},
            "angle": {"condition": {"test": "datum.side == 'sell'", "value": 180}, "value": 0}
          }
        },
        {
          "data": {"name": "trades"},
          "transform": [{"filter": "datum.side == 'buy'"}],
          "mark": {"type": "text", "baseline": "top", "align": "center", "dy": 11, "fontSize": 11, "lineHeight": 12.2, "lineBreak": "\n", "color": "#111111"},
          "encoding": {
            "x": {"field": "i", "type": "quantitative", "scale": {"domain": [-0.42, 85.85], "nice": false, "zero": false}},
            "y": {"field": "y", "type": "quantitative", "scale": {"domain": [1306.09, 1317.137], "nice": false, "zero": false}},
            "text": {"field": "txt"}
          }
        },
        {
          "data": {"name": "trades"},
          "transform": [{"filter": "datum.side == 'sell'"}],
          "mark": {"type": "text", "baseline": "bottom", "align": "center", "dy": -10, "fontSize": 11, "lineHeight": 12.2, "lineBreak": "\n", "color": "#111111"},
          "encoding": {
            "x": {"field": "i", "type": "quantitative", "scale": {"domain": [-0.42, 85.85], "nice": false, "zero": false}},
            "y": {"field": "y", "type": "quantitative", "scale": {"domain": [1306.09, 1317.137], "nice": false, "zero": false}},
            "text": {"field": "txt"}
          }
        },
        {
          "data": {"values": [{"t": "PERRY_ZSHARK_4"}]},
          "mark": {"type": "text", "align": "left", "baseline": "middle", "fontSize": 10, "color": "#000000"},
          "encoding": {
            "x": {"datum": -0.3, "type": "quantitative", "scale": {"domain": [-0.42, 85.85], "nice": false, "zero": false}},
            "y": {"datum": 1317.0, "type": "quantitative", "scale": {"domain": [1306.09, 1317.137], "nice": false, "zero": false}},
            "text": {"field": "t"}
          }
        },
        {
          "data": {"values": [{"t": "Trade"}]},
          "mark": {"type": "rect", "color": "#000000"},
          "encoding": {
            "x": {"datum": 82.25, "type": "quantitative", "scale": {"domain": [-0.42, 85.85], "nice": false, "zero": false}},
            "x2": {"datum": 85.51},
            "y": {"datum": 1306.71, "type": "quantitative", "scale": {"domain": [1306.09, 1317.137], "nice": false, "zero": false}},
            "y2": {"datum": 1306.29}
          }
        },
        {
          "data": {"values": [{"t": "Trade"}]},
          "mark": {"type": "text", "align": "center", "baseline": "middle", "fontSize": 16, "fontWeight": "bold", "color": "#ffffff"},
          "encoding": {
            "x": {"datum": 83.88, "type": "quantitative", "scale": {"domain": [-0.42, 85.85], "nice": false, "zero": false}},
            "y": {"datum": 1306.5, "type": "quantitative", "scale": {"domain": [1306.09, 1317.137], "nice": false, "zero": false}},
            "text": {"field": "t"}
          }
        },
        {
          "data": {"values": [{"t": "end"}]},
          "mark": {"type": "point", "shape": "triangle-right", "filled": true, "size": 260, "color": "#000000", "opacity": 1},
          "encoding": {
            "x": {"datum": 84.45, "type": "quantitative", "scale": {"domain": [-0.42, 85.85], "nice": false, "zero": false}},
            "y": {"datum": 1316.83, "type": "quantitative", "scale": {"domain": [1306.09, 1317.137], "nice": false, "zero": false}}
          }
        },
        {
          "data": {"values": [{"t": "end"}]},
          "mark": {"type": "rule", "color": "#000000", "strokeWidth": 4},
          "encoding": {
            "x": {"datum": 85.2, "type": "quantitative", "scale": {"domain": [-0.42, 85.85], "nice": false, "zero": false}},
            "y": {"datum": 1317.01, "type": "quantitative", "scale": {"domain": [1306.09, 1317.137], "nice": false, "zero": false}},
            "y2": {"datum": 1316.64}
          }
        },
        {
          "data": {"values": [{"t": "F"}]},
          "mark": {"type": "point", "shape": "square", "filled": false, "size": 110, "color": "#000000", "strokeWidth": 1, "opacity": 1},
          "encoding": {
            "x": {"datum": 89.85, "type": "quantitative", "scale": {"domain": [-0.42, 85.85], "nice": false, "zero": false}},
            "y": {"datum": 1316.99, "type": "quantitative", "scale": {"domain": [1306.09, 1317.137], "nice": false, "zero": false}}
          }
        },
        {
          "data": {"values": [{"t": "F"}]},
          "mark": {"type": "text", "align": "center", "baseline": "middle", "fontSize": 9, "color": "#000000"},
          "encoding": {
            "x": {"datum": 89.85, "type": "quantitative", "scale": {"domain": [-0.42, 85.85], "nice": false, "zero": false}},
            "y": {"datum": 1316.99, "type": "quantitative", "scale": {"domain": [1306.09, 1317.137], "nice": false, "zero": false}},
            "text": {"field": "t"}
          }
        },
        {
          "data": {"values": [{"t": "frame"}]},
          "mark": {"type": "rule", "color": "#000000", "strokeWidth": 1},
          "encoding": {
            "x": {"datum": 85.85, "type": "quantitative", "scale": {"domain": [-0.42, 85.85], "nice": false, "zero": false}},
            "x2": {"datum": 90.31},
            "y": {"datum": 1317.137, "type": "quantitative", "scale": {"domain": [1306.09, 1317.137], "nice": false, "zero": false}}
          }
        },
        {
          "data": {"values": [{"t": "frame"}]},
          "mark": {"type": "rule", "color": "#000000", "strokeWidth": 1},
          "encoding": {
            "x": {"datum": 85.85, "type": "quantitative", "scale": {"domain": [-0.42, 85.85], "nice": false, "zero": false}},
            "x2": {"datum": 90.31},
            "y": {"datum": 1306.09, "type": "quantitative", "scale": {"domain": [1306.09, 1317.137], "nice": false, "zero": false}}
          }
        },
        {
          "data": {"values": [{"t": "frame"}]},
          "mark": {"type": "rule", "color": "#000000", "strokeWidth": 1},
          "encoding": {
            "x": {"datum": 90.31, "type": "quantitative", "scale": {"domain": [-0.42, 85.85], "nice": false, "zero": false}},
            "y": {"datum": 1317.137, "type": "quantitative", "scale": {"domain": [1306.09, 1317.137], "nice": false, "zero": false}},
            "y2": {"datum": 1306.09}
          }
        },
        {
          "data": {"name": "tags"},
          "mark": {"type": "point", "shape": "M0.1,0L0.75,-1L7,-1L7,1L0.75,1Z", "size": 196, "filled": true, "color": "#8a8a8a", "stroke": "#3a3a3a", "strokeWidth": 1, "opacity": 1},
          "encoding": {
            "x": {"datum": 85.85, "type": "quantitative", "scale": {"domain": [-0.42, 85.85], "nice": false, "zero": false}},
            "y": {"field": "p", "type": "quantitative", "scale": {"domain": [1306.09, 1317.137], "nice": false, "zero": false}}
          }
        },
        {
          "data": {"name": "tags"},
          "mark": {"type": "text", "align": "left", "baseline": "middle", "dx": 6, "fontSize": 11, "color": "#111111"},
          "encoding": {
            "x": {"datum": 85.85, "type": "quantitative", "scale": {"domain": [-0.42, 85.85], "nice": false, "zero": false}},
            "y": {"field": "p", "type": "quantitative", "scale": {"domain": [1306.09, 1317.137], "nice": false, "zero": false}},
            "text": {"field": "p", "format": ".2f"}
          }
        }
      ]
    },
    {
      "width": 1294,
      "height": 88,
      "layer": [
        {
          "data": {"name": "bars"},
          "mark": {"type": "bar", "width": 15.4},
          "encoding": {
            "x": {"field": "i", "type": "quantitative", "scale": {"domain": [-0.42, 85.85], "nice": false, "zero": false}, "axis": null},
            "y": {"datum": 7745, "type": "quantitative", "scale": {"domain": [-882, 7745], "nice": false, "zero": false},
              "axis": {"orient": "right", "title": null, "values": [5000], "format": "d", "tickSize": 5, "labelPadding": 3}},
            "y2": {"datum": -882},
            "color": {"condition": {"test": "datum.tr == 'up'", "value": "#c9d4f4"}, "value": "#f6e4f6"}
          }
        },
        {
          "data": {"values": [{"t": "zero"}]},
          "mark": {"type": "rule", "color": "#777777", "strokeWidth": 1.5},
          "encoding": {
            "y": {"datum": 0, "type": "quantitative", "scale": {"domain": [-882, 7745], "nice": false, "zero": false}}
          }
        },
        {
          "data": {"name": "bars"},
          "mark": {"type": "bar", "width": 9.5},
          "encoding": {
            "x": {"field": "i", "type": "quantitative", "scale": {"domain": [-0.42, 85.85], "nice": false, "zero": false}},
            "y": {"field": "v", "type": "quantitative", "scale": {"domain": [-882, 7745], "nice": false, "zero": false}},
            "y2": {"datum": 0},
            "color": {"condition": {"test": "datum.vd == 'up'", "value": "#0000ff"}, "value": "#ff0000"}
          }
        },
        {
          "data": {"values": [{"t": "Using Binary"}]},
          "mark": {"type": "text", "align": "left", "baseline": "middle", "fontSize": 11, "color": "#333333"},
          "encoding": {
            "x": {"datum": -0.4, "type": "quantitative", "scale": {"domain": [-0.42, 85.85], "nice": false, "zero": false}},
            "y": {"datum": 1000, "type": "quantitative", "scale": {"domain": [-882, 7745], "nice": false, "zero": false}},
            "text": {"field": "t"}
          }
        },
        {
          "data": {"values": [{"t": "frame"}]},
          "mark": {"type": "rule", "color": "#000000", "strokeWidth": 1},
          "encoding": {
            "x": {"datum": 85.85, "type": "quantitative", "scale": {"domain": [-0.42, 85.85], "nice": false, "zero": false}},
            "x2": {"datum": 90.31},
            "y": {"datum": 7745, "type": "quantitative", "scale": {"domain": [-882, 7745], "nice": false, "zero": false}}
          }
        },
        {
          "data": {"values": [{"t": "frame"}]},
          "mark": {"type": "rule", "color": "#000000", "strokeWidth": 1},
          "encoding": {
            "x": {"datum": 85.85, "type": "quantitative", "scale": {"domain": [-0.42, 85.85], "nice": false, "zero": false}},
            "x2": {"datum": 90.31},
            "y": {"datum": -882, "type": "quantitative", "scale": {"domain": [-882, 7745], "nice": false, "zero": false}}
          }
        },
        {
          "data": {"values": [{"t": "frame"}]},
          "mark": {"type": "rule", "color": "#000000", "strokeWidth": 1},
          "encoding": {
            "x": {"datum": 90.31, "type": "quantitative", "scale": {"domain": [-0.42, 85.85], "nice": false, "zero": false}},
            "y": {"datum": 7745, "type": "quantitative", "scale": {"domain": [-882, 7745], "nice": false, "zero": false}},
            "y2": {"datum": -882}
          }
        },
        {
          "data": {"values": [{"p": 1654}]},
          "mark": {"type": "point", "shape": "M0.1,0L0.75,-1L5.1,-1L5.1,1L0.75,1Z", "size": 196, "filled": true, "color": "#8a8a8a", "stroke": "#3a3a3a", "strokeWidth": 1, "opacity": 1},
          "encoding": {
            "x": {"datum": 85.85, "type": "quantitative", "scale": {"domain": [-0.42, 85.85], "nice": false, "zero": false}},
            "y": {"field": "p", "type": "quantitative", "scale": {"domain": [-882, 7745], "nice": false, "zero": false}}
          }
        },
        {
          "data": {"values": [{"p": 0}]},
          "mark": {"type": "point", "shape": "M0.1,0L0.75,-1L1.9,-1L1.9,1L0.75,1Z", "size": 196, "filled": true, "color": "#8a8a8a", "stroke": "#3a3a3a", "strokeWidth": 1, "opacity": 1},
          "encoding": {
            "x": {"datum": 85.85, "type": "quantitative", "scale": {"domain": [-0.42, 85.85], "nice": false, "zero": false}},
            "y": {"field": "p", "type": "quantitative", "scale": {"domain": [-882, 7745], "nice": false, "zero": false}}
          }
        },
        {
          "data": {"values": [{"p": 1654}, {"p": 0}]},
          "mark": {"type": "text", "align": "left", "baseline": "middle", "dx": 5, "fontSize": 11, "color": "#111111"},
          "encoding": {
            "x": {"datum": 85.85, "type": "quantitative", "scale": {"domain": [-0.42, 85.85], "nice": false, "zero": false}},
            "y": {"field": "p", "type": "quantitative", "scale": {"domain": [-882, 7745], "nice": false, "zero": false}},
            "text": {"field": "p", "format": "d"}
          }
        }
      ]
    },
    {
      "width": 1294,
      "height": 12,
      "layer": [
        {
          "data": {"name": "bars"},
          "mark": {"type": "bar", "width": 15.4},
          "encoding": {
            "x": {"field": "i", "type": "quantitative", "scale": {"domain": [-0.42, 85.85], "nice": false, "zero": false},
              "axis": {"orient": "bottom", "title": null, "values": [0,4,8,12,16,20,24,28,32,36,40,44,48,52,56,60,64,68,72,76,80], "labelExpr": "['8:30','08:30','08:31','08:37','09:04','09:15','09:26','09:30','09:33','09:40','09:44','09:50','09:55','10:00','10:03','10:09','10:27','10:32','10:32','10:36','10:39'][round(datum.value / 4)]", "labelAlign": {"condition": {"test": "datum.value == 0", "value": "left"}, "value": "center"}, "tickSize": 4, "labelPadding": 1, "domain": false, "labelFlush": false, "labelOverlap": false}},
            "y": {"datum": 1, "type": "quantitative", "scale": {"domain": [0, 1], "nice": false, "zero": false},
              "axis": {"orient": "right", "title": null, "values": [0.33], "labelExpr": "'0'", "tickSize": 5, "labelPadding": 3}},
            "y2": {"datum": 0},
            "color": {"condition": {"test": "datum.tr == 'up'", "value": "#c9d4f4"}, "value": "#f6e4f6"}
          }
        },
        {
          "data": {"values": [{"t": "© 2011 NinjaTrader, LLC"}]},
          "mark": {"type": "text", "align": "left", "baseline": "middle", "fontSize": 11, "color": "#555555"},
          "encoding": {
            "x": {"datum": -0.4, "type": "quantitative", "scale": {"domain": [-0.42, 85.85], "nice": false, "zero": false}},
            "y": {"datum": 0.6, "type": "quantitative", "scale": {"domain": [0, 1], "nice": false, "zero": false}},
            "text": {"field": "t"}
          }
        },
        {
          "data": {"name": "bars"},
          "mark": {"type": "bar", "width": 14},
          "encoding": {
            "x": {"field": "i", "type": "quantitative", "scale": {"domain": [-0.42, 85.85], "nice": false, "zero": false}},
            "y": {"datum": 0.58, "type": "quantitative", "scale": {"domain": [0, 1], "nice": false, "zero": false}},
            "y2": {"datum": 0.08},
            "color": {"condition": {"test": "datum.tr == 'up'", "value": "#1414d8"}, "value": "#dd1414"}
          }
        },
        {
          "data": {"values": [{"t": "mid"}]},
          "mark": {"type": "rule", "color": "#1a1a1a", "strokeWidth": 1.5, "strokeDash": [9, 6]},
          "encoding": {
            "x": {"datum": -0.42, "type": "quantitative", "scale": {"domain": [-0.42, 85.85], "nice": false, "zero": false}},
            "x2": {"datum": 83.5},
            "y": {"datum": 0.34, "type": "quantitative", "scale": {"domain": [0, 1], "nice": false, "zero": false}}
          }
        },
        {
          "data": {"values": [{"t": "zero"}]},
          "mark": {"type": "rule", "color": "#e040e0", "strokeWidth": 1.5},
          "encoding": {
            "x": {"datum": 83.5, "type": "quantitative", "scale": {"domain": [-0.42, 85.85], "nice": false, "zero": false}},
            "x2": {"datum": 85.85},
            "y": {"datum": 0.33, "type": "quantitative", "scale": {"domain": [0, 1], "nice": false, "zero": false}}
          }
        },
        {
          "data": {"values": [{"t": "frame"}]},
          "mark": {"type": "rule", "color": "#000000", "strokeWidth": 1},
          "encoding": {
            "x": {"datum": 90.31, "type": "quantitative", "scale": {"domain": [-0.42, 85.85], "nice": false, "zero": false}},
            "y": {"datum": 1, "type": "quantitative", "scale": {"domain": [0, 1], "nice": false, "zero": false}},
            "y2": {"datum": -3.55}
          }
        },
        {
          "data": {"values": [{"t": "frame"}]},
          "mark": {"type": "rule", "color": "#000000", "strokeWidth": 1},
          "encoding": {
            "x": {"datum": -0.42, "type": "quantitative", "scale": {"domain": [-0.42, 85.85], "nice": false, "zero": false}},
            "y": {"datum": 0, "type": "quantitative", "scale": {"domain": [0, 1], "nice": false, "zero": false}},
            "y2": {"datum": -3.55}
          }
        },
        {
          "data": {"values": [{"t": "frame"}]},
          "mark": {"type": "rule", "color": "#000000", "strokeWidth": 1},
          "encoding": {
            "x": {"datum": -0.42, "type": "quantitative", "scale": {"domain": [-0.42, 85.85], "nice": false, "zero": false}},
            "x2": {"datum": 90.31},
            "y": {"datum": -3.55, "type": "quantitative", "scale": {"domain": [0, 1], "nice": false, "zero": false}}
          }
        }
      ]
    }
  ]
}
